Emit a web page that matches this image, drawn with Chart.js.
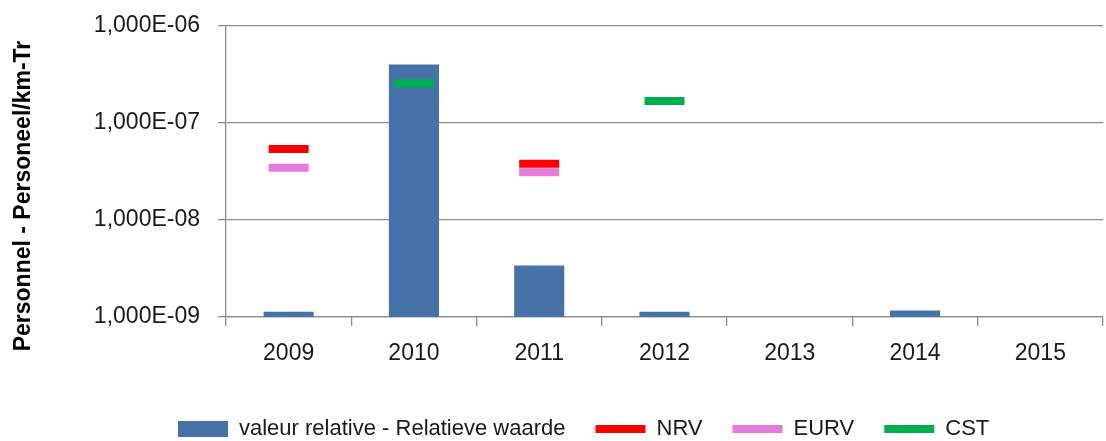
<!DOCTYPE html>
<html>
<head>
<meta charset="utf-8">
<script src="https://cdn.jsdelivr.net/npm/chart.js@4"></script>
<style>
  html, body { margin: 0; padding: 0; background: #fff; }
  #wrap { width: 1106px; height: 441px; position: relative; }
</style>
</head>
<body>
<div id="wrap"><canvas id="chart1"></canvas></div>
<script>
// Personnel - Personeel/km-Tr, log scale
const years = ['2009', '2010', '2011', '2012', '2013', '2014', '2015'];

const relValues = [1.13e-9, 4.0e-7, 3.4e-9, 1.13e-9, null, 1.17e-9, null];
const nrvValues = [5.4e-8, null, 3.8e-8, null, null, null, null];
const eurvValues = [3.45e-8, null, 3.1e-8, null, null, null, null];
const cstValues = [null, 2.57e-7, null, 1.69e-7, null, null, null];

const yTickValues = [1e-9, 1e-8, 1e-7, 1e-6];
const yTickLabels = ['1,000E-09', '1,000E-08', '1,000E-07', '1,000E-06'];
const yTitle = 'Personnel - Personeel/km-Tr';

const gridGrey = '#8c8c8c';
const fontFam = 'Liberation Sans, Arial, sans-serif';

function markerSet(label, data, color) {
    return {
        type: 'line',
        label: label,
        data: data,
        order: 0,
        showLine: false,
        borderColor: color,
        backgroundColor: color,
        borderWidth: 4,
        pointStyle: 'line',
        pointRadius: 20,
        pointHoverRadius: 20,
        pointBorderWidth: 8,
        pointHoverBorderWidth: 8,
        pointBorderColor: color
    };
}

// legend sits left of centre in the original, title a bit low
const placement = {
    id: 'placement',
    afterLayout(chart) {
        chart.legend.left = 148;
        chart.legend.top = 388;
    },
    afterDraw(chart) {
        const c = chart.ctx;
        c.save();
        c.translate(24, 196);
        c.rotate(-Math.PI / 2);
        c.textAlign = 'center';
        c.textBaseline = 'middle';
        c.fillStyle = '#000';
        c.font = 'bold 23px ' + fontFam;
        c.fillText(yTitle, 0, 0);
        c.restore();
    }
};

const ctx1 = document.getElementById('chart1').getContext('2d');
const chart1 = new Chart(ctx1, {
    data: {
        labels: years,
        datasets: [
            {
                type: 'bar',
                label: 'valeur relative - Relatieve waarde',
                data: relValues,
                order: 1,
                backgroundColor: '#4672a8',
                borderWidth: 0,
                pointStyle: 'rect',
                categoryPercentage: 0.8,
                barPercentage: 0.5
            },
            markerSet('NRV', nrvValues, '#ff0000'),
            markerSet('EURV', eurvValues, '#e77bd9'),
            markerSet('CST', cstValues, '#00b050')
        ]
    },
    options: {
        responsive: true,
        maintainAspectRatio: false,
        animation: false,
        layout: {
            autoPadding: false,
            padding: { left: 0, right: 3, top: 26, bottom: 0 }
        },
        scales: {
            x: {
                offset: true,
                grid: {
                    display: true,
                    drawOnChartArea: false,
                    offset: true,
                    color: gridGrey,
                    tickLength: 9,
                    lineWidth: 1.3
                },
                border: { color: gridGrey, width: 1.3 },
                ticks: {
                    color: '#1a1a1a',
                    font: { family: fontFam, size: 23 },
                    padding: 14,
                    maxRotation: 0
                },
                afterFit: function(scale) {
                    const lg = scale.chart.legend;
                    scale.height = 124 - (lg ? lg.height : 0);
                    scale.paddingLeft = 0;
                    scale.paddingRight = 0;
                }
            },
            y: {
                type: 'logarithmic',
                min: 1e-9,
                max: 1e-6,
                grid: {
                    color: gridGrey,
                    lineWidth: 1.3,
                    tickLength: 8
                },
                border: { color: gridGrey, width: 1.3 },
                afterBuildTicks: function(scale) {
                    scale.ticks = yTickValues.map(v => ({ value: v }));
                },
                ticks: {
                    color: '#1a1a1a',
                    font: { family: fontFam, size: 23 },
                    padding: 18,
                    callback: function(value, index) {
                        return yTickLabels[index];
                    }
                },
                afterFit: function(scale) {
                    scale.width = 226;
                    scale.paddingTop = 0;
                    scale.paddingBottom = 0;
                }
            }
        },
        plugins: {
            legend: {
                position: 'bottom',
                align: 'start',
                labels: {
                    usePointStyle: true,
                    pointStyleWidth: 50,
                    boxHeight: 16,
                    padding: 30,
                    color: '#1a1a1a',
                    font: { family: fontFam, size: 22 },
                    sort: (a, b) => a.datasetIndex - b.datasetIndex
                }
            },
            tooltip: { enabled: false }
        }
    },
    plugins: [placement]
});
</script>
</body>
</html>
